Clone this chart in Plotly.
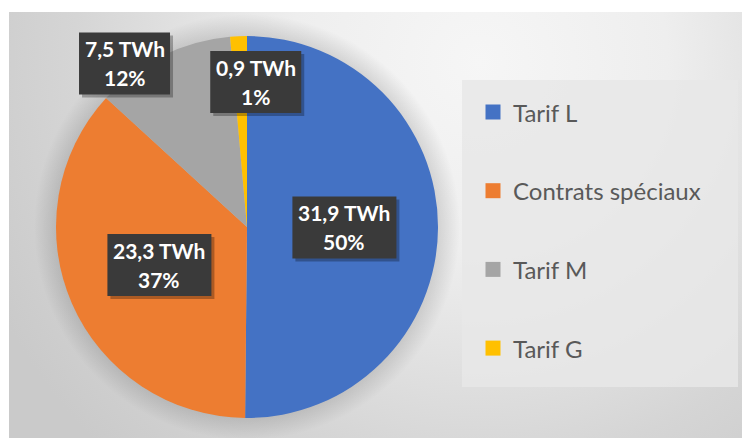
import base64
import math
import plotly.graph_objects as go

# --- data -------------------------------------------------------------
labels = ["Tarif L", "Contrats spéciaux", "Tarif M", "Tarif G"]
values_twh = [31.9, 23.3, 7.5, 0.9]
colors = ["#4472C4", "#ED7D31", "#A5A5A5", "#FFC000"]

# --- layout constants (pixels) ----------------------------------------
W, H = 742, 438
AREA_X0, AREA_Y0 = 9, 12           # top-left corner of the grey chart area
CX, CY, R = 247, 227, 191          # pie centre and radius
# label placement per slice: radial factor and angular nudge (degrees)
label_rf = [0.51, 0.50, 1.07, 0.76]
label_nudge = [0.0, 0.0, -10.5, 6.0]
LINE_GAP = 14.5
BOX_H = 62
LABEL_FONT = dict(family="Lato", size=21, color="white")
LEGEND_FONT = dict(family="Lato", size=24, color="#595959")


def px_to_paper(x, y):
    return x / W, 1 - y / H


# background: soft radial grey gradient plus a faint halo behind the pie
aw, ah = W - AREA_X0, H - AREA_Y0
pcx, pcy = CX - AREA_X0, CY - AREA_Y0
svg = f"""<svg xmlns='http://www.w3.org/2000/svg' width='{aw}' height='{ah}' viewBox='0 0 {aw} {ah}'>
<defs>
<radialGradient id='bg' gradientUnits='userSpaceOnUse' cx='470' cy='50' r='540'>
<stop offset='0' stop-color='#f6f6f6'/>
<stop offset='0.35' stop-color='#eeeeee'/>
<stop offset='0.75' stop-color='#d5d5d5'/>
<stop offset='1' stop-color='#cacaca'/>
</radialGradient>
<radialGradient id='halo' gradientUnits='userSpaceOnUse' cx='{pcx}' cy='{pcy}' r='{R + 22}'>
<stop offset='0.86' stop-color='#000' stop-opacity='0.16'/>
<stop offset='1' stop-color='#000' stop-opacity='0'/>
</radialGradient>
</defs>
<rect width='{aw}' height='{ah}' fill='url(#bg)'/>
<circle cx='{pcx}' cy='{pcy}' r='{R + 22}' fill='url(#halo)'/>
</svg>"""
bg_uri = "data:image/svg+xml;base64," + base64.b64encode(svg.encode()).decode()

fig = go.Figure()

dx0, dy1 = px_to_paper(CX - R, CY - R)
dx1, dy0 = px_to_paper(CX + R, CY + R)
fig.add_trace(go.Pie(
    labels=labels,
    values=values_twh,
    sort=False,
    direction="clockwise",
    rotation=0,
    marker=dict(colors=colors, line=dict(width=0)),
    textinfo="none",
    hovertemplate="%{label}<br>%{value} TWh<br>%{percent}<extra></extra>",
    domain=dict(x=[dx0, dx1], y=[dy0, dy1]),
    showlegend=False,
))

shapes = []
annotations = []

# data labels: dark boxes with value and share
total = sum(values_twh)
cum = 0.0
for i, v in enumerate(values_twh):
    mid = (cum + v / 2) / total * 360 + label_nudge[i]
    cum += v
    theta = math.radians(mid)
    lx = CX + label_rf[i] * R * math.sin(theta)
    ly = CY - label_rf[i] * R * math.cos(theta)
    xp, yp = px_to_paper(lx, ly)
    line1 = f"{v:.1f}".replace(".", ",") + " TWh"
    line2 = f"{round(v / total * 100)}%"
    bw = 13 * len(line1)
    # drop shadow, then box
    shapes.append(dict(type="rect", xref="paper", yref="paper",
                       xsizemode="pixel", ysizemode="pixel",
                       xanchor=xp, yanchor=yp,
                       x0=-bw / 2 + 3, x1=bw / 2 + 3, y0=-BOX_H / 2 - 3, y1=BOX_H / 2 - 3,
                       fillcolor="rgba(0,0,0,0.28)", line=dict(width=0), layer="above"))
    shapes.append(dict(type="rect", xref="paper", yref="paper",
                       xsizemode="pixel", ysizemode="pixel",
                       xanchor=xp, yanchor=yp,
                       x0=-bw / 2, x1=bw / 2, y0=-BOX_H / 2, y1=BOX_H / 2,
                       fillcolor="#3a3a3a", line=dict(width=0), layer="above"))
    for txt, shift in ((line1, LINE_GAP), (line2, -LINE_GAP)):
        annotations.append(dict(x=xp, y=yp, xref="paper", yref="paper",
                                text=f"<b>{txt}</b>", showarrow=False,
                                xanchor="center", yanchor="middle", yshift=shift,
                                font=LABEL_FONT))

# legend panel
lx0, ly0 = px_to_paper(462, 80)
lx1, ly1 = px_to_paper(738, 387)
shapes.append(dict(type="rect", xref="paper", yref="paper",
                   x0=lx0, x1=lx1, y0=ly1, y1=ly0,
                   fillcolor="rgba(232,232,232,0.85)", line=dict(width=0), layer="above"))
for i, (lab, col) in enumerate(zip(labels, colors)):
    iy = 112 + i * 78.7
    sx, sy = px_to_paper(493, iy)
    shapes.append(dict(type="rect", xref="paper", yref="paper",
                       xsizemode="pixel", ysizemode="pixel",
                       xanchor=sx, yanchor=sy, x0=-7.5, x1=7.5, y0=-7.5, y1=7.5,
                       fillcolor=col, line=dict(width=0), layer="above"))
    tx, ty = px_to_paper(511, iy)
    annotations.append(dict(x=tx, y=ty, xref="paper", yref="paper", text=lab,
                            showarrow=False, xanchor="left", yanchor="middle",
                            font=LEGEND_FONT))

ix0, iy1 = px_to_paper(AREA_X0, AREA_Y0)
fig.update_layout(
    width=W, height=H,
    margin=dict(l=0, r=0, t=0, b=0),
    paper_bgcolor="white",
    plot_bgcolor="white",
    images=[dict(source=bg_uri, xref="paper", yref="paper",
                 x=ix0, y=iy1, sizex=1 - ix0, sizey=iy1,
                 xanchor="left", yanchor="top", sizing="stretch", layer="below")],
    shapes=shapes,
    annotations=annotations,
)

fig.write_html("out.html")
